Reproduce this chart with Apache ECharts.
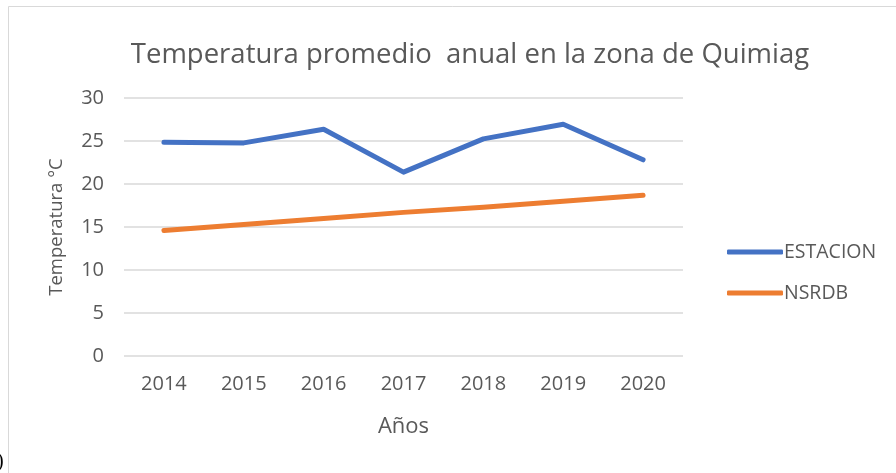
<!DOCTYPE html>
<html>
<head>
<meta charset="utf-8">
<script src="https://cdn.jsdelivr.net/npm/echarts@6/dist/echarts.min.js"></script>
<style>html,body{margin:0;padding:0;background:#fff}#c{width:896px;height:473px}</style>
</head>
<body>
<div id="c"></div>
<script>
const categories = ['2014','2015','2016','2017','2018','2019','2020'];
const estacion = [24.86, 24.78, 26.37, 21.38, 25.25, 26.95, 22.81];
const nsrdb = [14.6, 15.3, 16.0, 16.7, 17.3, 18.0, 18.7];
const yTicks = [0, 5, 10, 15, 20, 25, 30];

const FONT = '"Open Sans", "Noto Sans", sans-serif';
const chart = echarts.init(document.getElementById('c'), null, {renderer: 'canvas'});
chart.setOption({
  animation: false,
  backgroundColor: '#fff',
  textStyle: {fontFamily: FONT},
  title: {
    text: 'Temperatura promedio  anual en la zona de Quimiag',
    left: 465, top: 36, textAlign: 'center',
    textStyle: {fontFamily: FONT, fontSize: 27.5, fontWeight: 'normal', color: '#595959'}
  },
  graphic: [
    {type: 'rect', shape: {x: 8.5, y: 6.5, width: 900, height: 480}, style: {fill: 'none', stroke: '#D9D9D9', lineWidth: 1}},
    {type: 'text', left: -3, top: 452, style: {text: ')', font: '20px "Liberation Serif"', fill: '#000'}}
  ],
  legend: {
    orient: 'vertical', left: 722, top: 237, itemGap: 21,
    itemWidth: 56, itemHeight: 5, icon: 'roundRect',
    textStyle: {fontFamily: FONT, fontSize: 19.5, color: '#595959', padding: [0, 0, 0, -4]},
    data: ['ESTACION', 'NSRDB']
  },
  grid: {left: 124, right: 213, top: 98, bottom: 117},
  xAxis: {
    type: 'category', data: categories, boundaryGap: true,
    axisLine: {show: false}, axisTick: {show: false},
    axisLabel: {fontFamily: FONT, fontSize: 20, color: '#595959', margin: 18},
    name: 'Años', nameLocation: 'middle', nameGap: 60,
    nameTextStyle: {fontFamily: FONT, fontSize: 22, color: '#595959'}
  },
  yAxis: {
    type: 'value', min: yTicks[0], max: yTicks[yTicks.length - 1], interval: 5,
    axisLine: {show: false}, axisTick: {show: false},
    splitLine: {lineStyle: {color: '#D9D9D9', width: 1.5}},
    axisLabel: {fontFamily: FONT, fontSize: 20, color: '#595959', margin: 20},
    name: 'Temperatura °C', nameLocation: 'middle', nameGap: 58, nameRotate: 90,
    nameTextStyle: {fontFamily: FONT, fontSize: 18.5, color: '#595959'}
  },
  series: [
    {name: 'ESTACION', type: 'line', data: estacion, symbol: 'none', color: '#4472C4',
     lineStyle: {width: 5, color: '#4472C4', cap: 'round', join: 'round'}},
    {name: 'NSRDB', type: 'line', data: nsrdb, symbol: 'none', color: '#ED7D31',
     lineStyle: {width: 5, color: '#ED7D31', cap: 'round', join: 'round'}}
  ]
});
</script>
</body>
</html>
